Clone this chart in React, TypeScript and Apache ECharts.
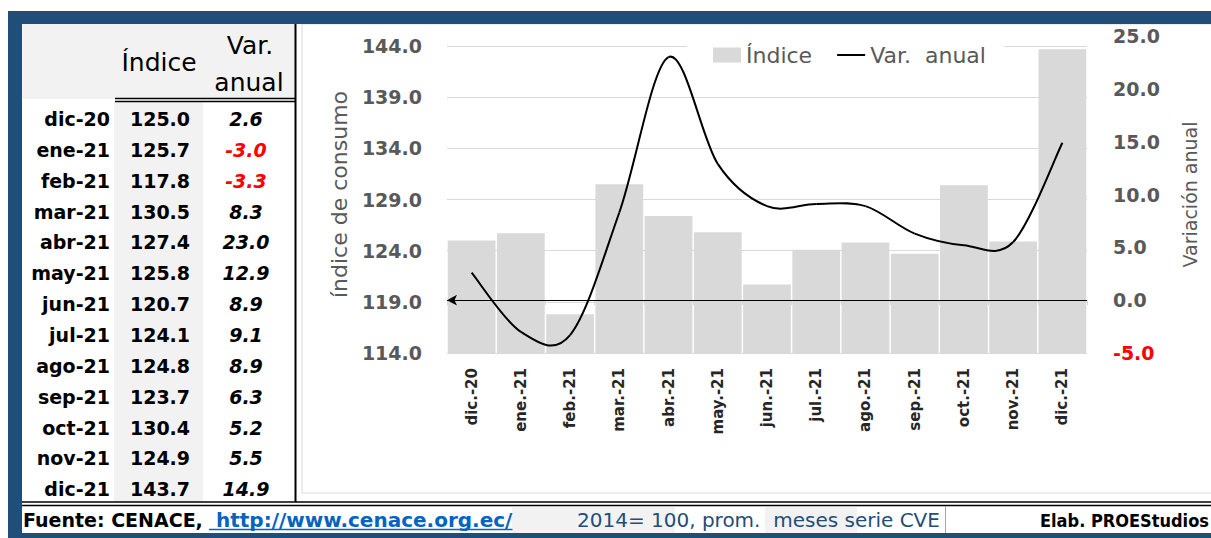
import React, { useEffect, useRef } from 'react';
import * as echarts from 'echarts';

const tableLabels = ['dic-20', 'ene-21', 'feb-21', 'mar-21', 'abr-21', 'may-21', 'jun-21', 'jul-21', 'ago-21', 'sep-21', 'oct-21', 'nov-21', 'dic-21'];
const axisLabels = ['dic.-20', 'ene.-21', 'feb.-21', 'mar.-21', 'abr.-21', 'may.-21', 'jun.-21', 'jul.-21', 'ago.-21', 'sep.-21', 'oct.-21', 'nov.-21', 'dic.-21'];
const indiceValues = [125.0, 125.7, 117.8, 130.5, 127.4, 125.8, 120.7, 124.1, 124.8, 123.7, 130.4, 124.9, 143.7];
const varAnualValues = [2.6, -3.0, -3.3, 8.3, 23.0, 12.9, 8.9, 9.1, 8.9, 6.3, 5.2, 5.5, 14.9];

const leftAxisRange = { min: 114, max: 145, interval: 5 };
const rightAxisRange = { min: -5, max: 25, interval: 5 };

const FONT = '"DejaVu Sans", "Noto Sans", sans-serif';
const FONT_COND = '"DejaVu Sans Condensed", "DejaVu Sans", sans-serif';
const BLUE = '#1F4E79';
const GRAY_TEXT = '#595959';

function measure(text: string, font: string): number {
  const c = document.createElement('canvas').getContext('2d');
  if (!c) return text.length * 10;
  c.font = font;
  return c.measureText(text).width;
}

function txt(text: string, x: number, y: number, opts: any = {}) {
  const align = opts.align || 'left';
  return {
    type: 'text',
    x,
    y,
    z: opts.z ?? 10,
    silent: true,
    style: {
      text,
      fill: opts.fill || '#000',
      fontSize: opts.fontSize || 19,
      fontWeight: opts.fontWeight || 'normal',
      fontStyle: opts.fontStyle || 'normal',
      fontFamily: opts.fontFamily || FONT,
      align,
      verticalAlign: 'middle',
      textAlign: align,
      textVerticalAlign: 'middle',
    },
  };
}

export default function App() {
  const ref = useRef<HTMLDivElement>(null);

  useEffect(() => {
    if (!ref.current) return;
    const chart = echarts.init(ref.current, undefined, { renderer: 'svg' });

    const graphics: any[] = [];
    graphics.push({
      type: 'rect', z: -5, silent: true,
      shape: { x: 302, y: 24, width: 930, height: 469 },
      style: { fill: '#fff', stroke: '#D9D9D9', lineWidth: 1 },
    });
    graphics.push({
      type: 'rect', z: 1, silent: true,
      shape: { x: 22, y: 24, width: 273, height: 75 },
      style: { fill: '#F2F2F2' },
    });
    graphics.push({
      type: 'rect', z: 1, silent: true,
      shape: { x: 114, y: 102, width: 89, height: 400 },
      style: { fill: '#F2F2F2' },
    });
    graphics.push(txt('Índice', 159, 62, { fontSize: 25, align: 'center' }));
    graphics.push(txt('Var.', 250, 45, { fontSize: 25, align: 'center' }));
    graphics.push(txt('anual', 249, 82, { fontSize: 25, align: 'center' }));
    graphics.push({ type: 'line', z: 5, silent: true, shape: { x1: 115, y1: 98.5, x2: 296, y2: 98.5 }, style: { stroke: '#000', lineWidth: 1.5 } });
    graphics.push({ type: 'line', z: 5, silent: true, shape: { x1: 115, y1: 101.5, x2: 296, y2: 101.5 }, style: { stroke: '#000', lineWidth: 1.5 } });
    graphics.push({ type: 'line', z: 5, silent: true, shape: { x1: 295.5, y1: 24, x2: 295.5, y2: 502 }, style: { stroke: '#000', lineWidth: 2 } });

    tableLabels.forEach((lab, i) => {
      const y = 119 + i * 30.85;
      graphics.push(txt(lab, 110, y, { fontWeight: 'bold', align: 'right' }));
      graphics.push(txt(indiceValues[i].toFixed(1), 160, y, { fontWeight: 'bold', align: 'center' }));
      const v = varAnualValues[i];
      graphics.push(txt(v.toFixed(1), 246, y, { fontWeight: 'bold', fontStyle: 'italic', align: 'center', fill: v < 0 ? '#FF0000' : '#000' }));
    });

    graphics.push({ type: 'line', z: 5, silent: true, shape: { x1: 22, y1: 502, x2: 1211, y2: 502 }, style: { stroke: '#000', lineWidth: 1.5 } });
    graphics.push({ type: 'line', z: 5, silent: true, shape: { x1: 22, y1: 505.5, x2: 1211, y2: 505.5 }, style: { stroke: '#000', lineWidth: 1.5 } });
    graphics.push({ type: 'rect', z: 1, silent: true, shape: { x: 512, y: 507, width: 163, height: 26 }, style: { fill: '#F2F2F2' } });
    graphics.push({ type: 'rect', z: 1, silent: true, shape: { x: 765, y: 507, width: 92, height: 26 }, style: { fill: '#F2F2F2' } });
    graphics.push({ type: 'line', z: 5, silent: true, shape: { x1: 945.5, y1: 506, x2: 945.5, y2: 533 }, style: { stroke: '#A6A6A6', lineWidth: 1 } });
    graphics.push(txt('Fuente: CENACE,', 23, 520, { fontWeight: 'bold', fontSize: 19 }));
    const linkText = ' http://www.cenace.org.ec/';
    const linkW = measure(linkText, `bold 20px ${FONT}`);
    graphics.push(txt(linkText, 209, 520, { fontWeight: 'bold', fontSize: 20, fill: '#0563C1' }));
    graphics.push({ type: 'line', z: 6, silent: true, shape: { x1: 209, y1: 529.5, x2: 209 + linkW, y2: 529.5 }, style: { stroke: '#0563C1', lineWidth: 1.5 } });
    graphics.push(txt('2014= 100, prom.  meses serie CVE', 577, 520, { fontSize: 20, fill: BLUE }));
    graphics.push(txt('Elab. PROEStudios', 1040, 520, { fontWeight: 'bold', fontSize: 18, fontFamily: FONT_COND }));

    graphics.push({ type: 'rect', z: 100, silent: true, shape: { x: 8, y: 11, width: 1203, height: 13 }, style: { fill: BLUE } });
    graphics.push({ type: 'rect', z: 100, silent: true, shape: { x: 8, y: 11, width: 14, height: 527 }, style: { fill: BLUE } });
    graphics.push({ type: 'rect', z: 100, silent: true, shape: { x: 8, y: 533, width: 1203, height: 5 }, style: { fill: BLUE } });

    const n = varAnualValues.length;
    const clampIdx = (k: number) => Math.max(0, Math.min(n - 1, k));

    const option: any = {
      animation: false,
      textStyle: { fontFamily: FONT },
      grid: { left: 447, right: 124, top: 36, bottom: 185, containLabel: false },
      legend: {
        left: 687,
        top: 38,
        data: [
          { name: 'Índice', icon: 'rect' },
          { name: 'Var.  anual', icon: 'path://M0,0 L28,0 L28,2 L0,2 Z' },
        ],
        symbolKeepAspect: true,
        itemWidth: 28,
        itemHeight: 15,
        itemGap: 25,
        padding: [6, 18, 6, 26],
        backgroundColor: '#fff',
        textStyle: { fontSize: 22, color: GRAY_TEXT, fontFamily: FONT },
        selectedMode: false,
      },
      xAxis: {
        type: 'category',
        data: axisLabels,
        boundaryGap: true,
        axisLine: { show: true, lineStyle: { color: '#D9D9D9', width: 1 } },
        axisTick: { show: true, alignWithLabel: false, length: 5, lineStyle: { color: '#D9D9D9' } },
        axisLabel: {
          interval: 0,
          rotate: 90,
          margin: 15,
          fontSize: 15,
          fontWeight: 'bold',
          color: '#262626',
          fontFamily: FONT,
        },
      },
      yAxis: [
        {
          type: 'value',
          min: leftAxisRange.min,
          max: leftAxisRange.max,
          interval: leftAxisRange.interval,
          name: 'índice de consumo',
          nameLocation: 'middle',
          nameRotate: 90,
          nameGap: 97,
          nameTextStyle: { fontSize: 22, color: GRAY_TEXT, fontFamily: FONT },
          axisLine: { show: false },
          axisTick: { show: false },
          splitLine: { show: true, showMaxLine: false, lineStyle: { color: '#D9D9D9', width: 1 } },
          axisLabel: {
            showMaxLabel: false,
            margin: 25,
            fontSize: 19,
            fontWeight: 'bold',
            color: GRAY_TEXT,
            fontFamily: FONT,
            formatter: (v: number) => v.toFixed(1),
          },
        },
        {
          type: 'value',
          min: rightAxisRange.min,
          max: rightAxisRange.max,
          interval: rightAxisRange.interval,
          position: 'right',
          name: 'Variación anual',
          nameLocation: 'middle',
          nameRotate: 90,
          nameGap: 93,
          nameTextStyle: { fontSize: 19, color: GRAY_TEXT, fontFamily: FONT },
          axisLine: { show: false },
          axisTick: { show: false },
          splitLine: { show: false },
          axisLabel: {
            margin: 26,
            fontSize: 19,
            fontWeight: 'bold',
            fontFamily: FONT,
            color: (v: any) => (Number(v) < 0 ? '#FF0000' : GRAY_TEXT),
            formatter: (v: number) => v.toFixed(1),
          },
        },
      ],
      series: [
        {
          name: 'Índice',
          type: 'bar',
          yAxisIndex: 0,
          data: indiceValues,
          barCategoryGap: '3%',
          itemStyle: { color: '#D9D9D9' },
          clip: true,
        },
        {
          name: 'Var.  anual',
          type: 'custom',
          yAxisIndex: 1,
          data: varAnualValues.map((v, i) => [i, v]),
          encode: { x: 0, y: 1 },
          itemStyle: { color: '#000' },
          clip: false,
          z: 3,
          renderItem: (params: any, api: any) => {
            const i = params.dataIndex;
            if (i >= n - 1) return null;
            const pt = (k: number) => {
              const kk = clampIdx(k);
              return api.coord([kk, varAnualValues[kk]]);
            };
            const p0 = pt(i - 1);
            const p1 = pt(i);
            const p2 = pt(i + 1);
            const p3 = pt(i + 2);
            return {
              type: 'bezierCurve',
              silent: true,
              shape: {
                x1: p1[0], y1: p1[1],
                x2: p2[0], y2: p2[1],
                cpx1: p1[0] + (p2[0] - p0[0]) / 6,
                cpy1: p1[1] + (p2[1] - p0[1]) / 6,
                cpx2: p2[0] - (p3[0] - p1[0]) / 6,
                cpy2: p2[1] - (p3[1] - p1[1]) / 6,
              },
              style: { stroke: '#000', lineWidth: 2, fill: 'none' },
            };
          },
          markLine: {
            silent: true,
            symbol: ['arrow', 'none'],
            symbolSize: [8, 10],
            lineStyle: { color: '#000', width: 1, type: 'solid' },
            label: { show: false },
            data: [{ yAxis: 0 }],
          },
        },
      ],
      graphic: { elements: graphics },
    };

    chart.setOption(option);
    return () => chart.dispose();
  }, []);

  return (
    <div
      ref={ref}
      style={{ position: 'absolute', left: 0, top: 0, width: 1211, height: 538, background: '#fff' }}
    />
  );
}
